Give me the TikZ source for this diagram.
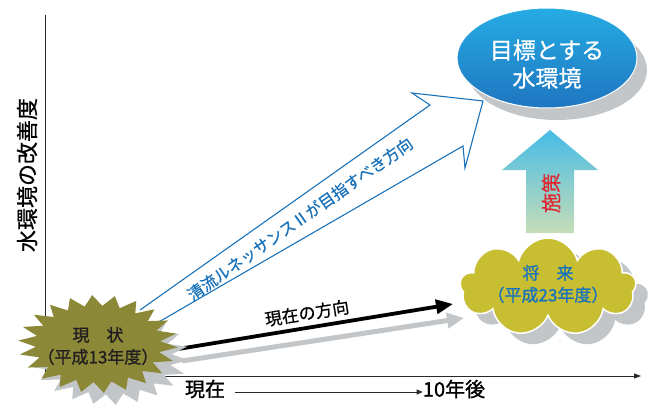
\documentclass[tikz,border=0pt]{standalone}
\usepackage{fontspec}
\setmainfont{Noto Sans CJK JP}
\newfontfamily\jpm[FakeBold=0.6]{Noto Sans CJK JP}
\newfontfamily\jpb[FakeBold=1.2]{Noto Sans CJK JP}
\usetikzlibrary{shapes.geometric,shapes.symbols,arrows.meta}
\definecolor{sgray}{RGB}{195,198,201}
\definecolor{axisc}{RGB}{40,40,40}
\definecolor{olivec}{RGB}{139,137,56}
\definecolor{cloudc}{RGB}{200,190,50}
\definecolor{blu}{RGB}{26,115,186}
\definecolor{eltop}{RGB}{38,172,228}
\definecolor{elmid}{RGB}{12,82,160}
\definecolor{elbot}{RGB}{30,118,192}
\definecolor{artop}{RGB}{70,188,230}
\definecolor{armid}{RGB}{78,184,140}
\definecolor{arbot}{RGB}{198,221,184}
\definecolor{redc}{RGB}{226,38,47}
\begin{document}
\begin{tikzpicture}[x=1pt,y=-1pt,
  axisline/.style={line width=0.8pt, draw=axisc},
  shadowfill/.style={fill=sgray, draw=none},
  lbl/.style={inner sep=0pt, text=black},
  ]
\useasboundingbox (0,0) rectangle (661,409);

% axes
\coordinate (ytop) at (45,15);
\coordinate (orig) at (45,376);
\coordinate (xend) at (641,376);
\draw[axisline] (ytop) -- (orig);
\draw[axisline, -{Triangle[length=7pt,width=5pt]}] (orig) -- (xend);
\node[lbl, rotate=90, font=\jpm\fontsize{22}{24}\selectfont] (ylabel) at (27,175) {水環境の改善度};

% bottom labels
\node[lbl, font=\jpb\fontsize{20}{22}\selectfont] (now2) at (205,389) {現在};
\node[lbl, font=\jpb\fontsize{20}{22}\selectfont] (later) at (454,389) {10年後};
\draw[line width=0.7pt, draw=axisc, -{Triangle[length=6pt,width=5pt]}] (now2.east) ++(10,3) coordinate (ba) -- (later.west |- ba);

% blue hollow arrow
\coordinate (bA) at (140,310);
\coordinate (bB) at (430,105);
\coordinate (bC) at (412,93);
\coordinate (bD) at (483,101);
\coordinate (bE) at (465,168);
\coordinate (bF) at (463,146);
\coordinate (bG) at (157,323);
\draw[blu, line width=1.1pt, fill=white, line join=miter] (bA) -- (bB) -- (bC) -- (bD) -- (bE) -- (bF) -- (bG);
\node[inner sep=0pt, text=blu, rotate=35, font=\jpm\fontsize{16}{18}\selectfont] (bluetxt) at (300,219) {清流ルネッサンスⅡが目指すべき方向};

% current direction arrow
\coordinate (gS) at (182,361);
\coordinate (gE) at (464,318);
\draw[sgray, line width=5pt, -{Triangle[length=17pt,width=15pt]}] (gS) -- (gE);
\coordinate (kS) at (172,350);
\coordinate (kE) at (453,304);
\draw[black, line width=3.8pt, -{Triangle[length=17pt,width=14pt]}] (kS) -- (kE);
\node[lbl, rotate=9, font=\jpm\fontsize{17}{19}\selectfont] (curtxt) at (307,313) {現在の方向};

% starburst (present)
\fill[sgray] plot[samples at={0,...,43}, variable=\k] ({110+(1-0.22*mod(\k,2))*79*cos(\k*360/44+4)}, {357+(1-0.22*mod(\k,2))*48*sin(\k*360/44+4)}) -- cycle;
\fill[olivec] plot[samples at={0,...,43}, variable=\k] ({98+(1-0.22*mod(\k,2))*80*cos(\k*360/44+4)}, {344+(1-0.22*mod(\k,2))*49*sin(\k*360/44+4)}) -- cycle;
\node[align=center, text={rgb,255:red,35;green,31;blue,32}, font=\jpb\fontsize{17}{22}\selectfont, inner sep=0pt] (now) at (98,346) {現　状\\（平成13年度）};

% goal ellipse
\node[ellipse, shadowfill, minimum width=180pt, minimum height=100pt] (goalsh) at (557,70) {};
\node[ellipse, minimum width=180pt, minimum height=100pt, top color=eltop, middle color=elmid, bottom color=elbot, draw=white, line width=1pt] (goal) at (547,58) {};
\node[align=center, text=white, font=\jpm\fontsize{23}{28}\selectfont, inner sep=0pt] (goaltxt) at (547,64) {目標とする\\水環境};

% measure arrow
\path[top color=artop, middle color=armid, bottom color=arbot] (526,233) -- (526,170) -- (502,170) -- (550,130) -- (598,170) -- (574,170) -- (574,233) -- cycle;
\node[text=redc, rotate=90, font=\jpm\fontsize{20}{22}\selectfont, inner sep=0pt] (measure) at (551,193) {施策};

% future cloud
\node[cloud, cloud puffs=9, cloud ignores aspect, minimum width=176pt, minimum height=98pt, shadowfill] (futsh) at (560,298) {};
\node[cloud, cloud puffs=9, cloud ignores aspect, minimum width=176pt, minimum height=98pt, fill=cloudc, draw=white, line width=1.5pt] (future) at (548,287) {};
\node[align=center, text=blu, font=\jpb\fontsize{17}{22}\selectfont, inner sep=0pt] (futtxt) at (548,284) {将　来\\（平成23年度）};
\end{tikzpicture}
\end{document}
